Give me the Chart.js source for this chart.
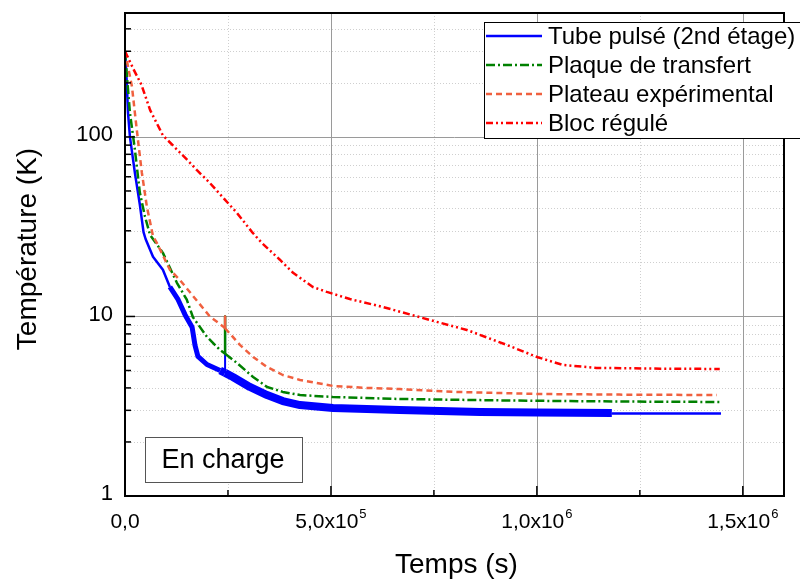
<!DOCTYPE html>
<html>
<head>
<meta charset="utf-8">
<script src="https://cdn.jsdelivr.net/npm/chart.js@4.4.1/dist/chart.umd.min.js"></script>
<style>
  body { margin: 0; background: #fff; }
  #wrap { width: 800px; height: 583px; }
</style>
</head>
<body>
<div id="wrap"><canvas id="chart"></canvas></div>
<script>
// Temps (s) / Température (K)
var tubeT = [0, 4e3, 7.3e3, 12e3, 24e3, 36e3, 45e3, 50e3, 68e3, 92e3, 109e3, 129e3, 146e3, 163e3, 170e3, 177e3, 199e3, 231e3, 243e3, 243e3, 243e3, 262e3, 303e3, 345e3, 383e3, 425e3, 505e3, 587e3, 667e3, 862e3, 1.0e6, 1.182e6, 1.184e6, 1.447e6];
var tubeV = [300, 208, 136, 100, 63, 42, 29.5, 27, 21.5, 18.2, 14.6, 12.4, 10.2, 8.7, 6.9, 6.0, 5.4, 5.0, 4.85, 10, 4.85, 4.6, 4.05, 3.65, 3.38, 3.21, 3.09, 3.05, 3.01, 2.94, 2.92, 2.9, 2.88, 2.88];

var plaqueT = [0, 6e3, 12e3, 24e3, 36e3, 48.5e3, 60.7e3, 92e3, 126e3, 150e3, 165e3, 199e3, 231e3, 243e3, 243e3, 243e3, 272e3, 311e3, 345e3, 383e3, 425e3, 505e3, 667e3, 862e3, 1.0e6, 1.2e6, 1.444e6];
var plaqueV = [300, 200, 136, 85, 49, 36, 28.5, 22.6, 15.4, 12.4, 9.9, 7.7, 6.5, 6.2, 10, 6.2, 5.5, 4.6, 4.05, 3.8, 3.65, 3.56, 3.47, 3.42, 3.39, 3.36, 3.34];

var plateauT = [0, 17e3, 24e3, 31.5e3, 41e3, 53e3, 68e3, 78e3, 109e3, 133e3, 175e3, 206e3, 238e3, 243e3, 243e3, 243e3, 279e3, 311e3, 345e3, 383e3, 425e3, 505e3, 587e3, 667e3, 800e3, 1.0e6, 1.2e6, 1.437e6];
var plateauV = [300, 190, 136, 96, 63, 41, 28, 25.5, 18.2, 16, 12.2, 10, 8.8, 8.6, 10, 8.6, 6.94, 5.95, 5.23, 4.72, 4.43, 4.1, 4.0, 3.94, 3.8, 3.7, 3.67, 3.65];

var blocT = [0, 20e3, 40e3, 61e3, 92e3, 133e3, 150e3, 174e3, 206e3, 243e3, 272e3, 308e3, 332e3, 376e3, 408e3, 456e3, 490e3, 546e3, 626e3, 740e3, 830e3, 927e3, 1.0e6, 1.063e6, 1.145e6, 1.3e6, 1.444e6];
var blocV = [300, 240, 195, 141, 102, 82, 75, 65.5, 55.4, 44.6, 37.7, 29.6, 25.7, 20.7, 17.5, 14.6, 13.7, 12.5, 11.3, 9.56, 8.41, 6.94, 5.95, 5.37, 5.17, 5.12, 5.1];

var seriesNames = ['Tube pulsé (2nd étage)', 'Plaque de transfert', 'Plateau expérimental', 'Bloc régulé'];

var xMajor = [0, 5e5, 1e6, 1.5e6];
var xMinor = [2.5e5, 7.5e5, 1.25e6];
var xTickBase = ['0,0', '5,0x10', '1,0x10', '1,5x10'];
var xTickExp = ['', '5', '6', '6'];
var yMajor = [1, 10, 100];
var yMinor = [2, 3, 4, 5, 6, 7, 8, 9, 20, 30, 40, 50, 60, 70, 80, 90, 200, 300, 400];
var yTickLabels = ['1', '10', '100'];

function pts(t, v) {
  return t.map(function (x, i) { return { x: x, y: v[i] }; });
}

var FONT = '"Liberation Sans", Arial, sans-serif';

var styles = [
  { color: '#0000ff', dash: [], width: 2.5 },
  { color: '#008000', dash: [9, 3, 2, 3], width: 2.5 },
  { color: '#f0603f', dash: [6, 4], width: 2.5 },
  { color: '#ff0000', dash: [7, 3, 2, 3, 2, 3], width: 2.5 }
];

var framePlugin = {
  id: 'frame',
  beforeDatasetsDraw: function (chart) {
    var c = chart.ctx, a = chart.chartArea;
    var xs = chart.scales.x, ys = chart.scales.y;
    c.save();
    // minor grid
    c.strokeStyle = '#cfcfcf';
    c.lineWidth = 1;
    c.setLineDash([1, 2]);
    xMinor.forEach(function (v) {
      var p = Math.round(xs.getPixelForValue(v)) + 0.5;
      c.beginPath(); c.moveTo(p, a.top); c.lineTo(p, a.bottom); c.stroke();
    });
    yMinor.forEach(function (v) {
      var p = Math.round(ys.getPixelForValue(v)) + 0.5;
      c.beginPath(); c.moveTo(a.left, p); c.lineTo(a.right, p); c.stroke();
    });
    // major grid
    c.setLineDash([]);
    c.strokeStyle = '#9a9a9a';
    xMajor.slice(1).forEach(function (v) {
      var p = Math.round(xs.getPixelForValue(v)) + 0.5;
      c.beginPath(); c.moveTo(p, a.top); c.lineTo(p, a.bottom); c.stroke();
    });
    yMajor.slice(1).forEach(function (v) {
      var p = Math.round(ys.getPixelForValue(v)) + 0.5;
      c.beginPath(); c.moveTo(a.left, p); c.lineTo(a.right, p); c.stroke();
    });
    c.restore();
  },
  afterDraw: function (chart) {
    var c = chart.ctx, a = chart.chartArea;
    var xs = chart.scales.x, ys = chart.scales.y;
    c.save();
    // frame
    c.strokeStyle = '#000';
    c.lineWidth = 2;
    c.strokeRect(a.left, a.top, a.right - a.left, a.bottom - a.top);
    // inward ticks
    c.lineWidth = 1.5;
    yMajor.forEach(function (v) {
      var p = ys.getPixelForValue(v);
      c.beginPath(); c.moveTo(a.left, p); c.lineTo(a.left + 10, p); c.stroke();
    });
    yMinor.forEach(function (v) {
      var p = ys.getPixelForValue(v);
      c.beginPath(); c.moveTo(a.left, p); c.lineTo(a.left + 6, p); c.stroke();
    });
    xMajor.forEach(function (v) {
      var p = xs.getPixelForValue(v);
      c.beginPath(); c.moveTo(p, a.bottom); c.lineTo(p, a.bottom - 10); c.stroke();
    });
    xMinor.forEach(function (v) {
      var p = xs.getPixelForValue(v);
      c.beginPath(); c.moveTo(p, a.bottom); c.lineTo(p, a.bottom - 6); c.stroke();
    });

    // tick labels
    c.fillStyle = '#000';
    c.font = '22px ' + FONT;
    c.textAlign = 'right';
    c.textBaseline = 'middle';
    yMajor.forEach(function (v, i) {
      c.fillText(yTickLabels[i], a.left - 12, ys.getPixelForValue(v) - 2);
    });
    c.textBaseline = 'alphabetic';
    xMajor.forEach(function (v, i) {
      var p = xs.getPixelForValue(v);
      c.font = '21px ' + FONT;
      var w1 = c.measureText(xTickBase[i]).width;
      c.font = '13px ' + FONT;
      var w2 = xTickExp[i] ? c.measureText(xTickExp[i]).width + 1 : 0;
      var x0 = p - (w1 + w2) / 2;
      c.textAlign = 'left';
      c.font = '21px ' + FONT;
      c.fillText(xTickBase[i], x0, 528);
      if (xTickExp[i]) {
        c.font = '13px ' + FONT;
        c.fillText(xTickExp[i], x0 + w1 + 1, 518);
      }
    });

    // axis titles
    c.font = '28px ' + FONT;
    c.textAlign = 'center';
    c.textBaseline = 'middle';
    c.fillText('Temps (s)', (a.left + a.right) / 2 + 2, 565);
    c.save();
    c.translate(28, 249);
    c.rotate(-Math.PI / 2);
    c.fillText('Température (K)', 0, 0);
    c.restore();

    // "En charge" box
    c.fillStyle = '#fff';
    c.fillRect(145, 437, 157, 45);
    c.strokeStyle = '#555';
    c.lineWidth = 1;
    c.strokeRect(145.5, 437.5, 157, 45);
    c.fillStyle = '#000';
    c.font = '27px ' + FONT;
    c.fillText('En charge', 223, 461);

    // legend
    c.fillStyle = '#fff';
    c.fillRect(484, 22, 320, 117);
    c.strokeStyle = '#000';
    c.lineWidth = 1;
    c.strokeRect(484.5, 22.5, 330, 116);
    var rows = [36, 65, 94, 123];
    rows.forEach(function (y, i) {
      var s = styles[i];
      c.strokeStyle = s.color;
      c.lineWidth = 2.5;
      c.setLineDash(s.dash);
      c.beginPath(); c.moveTo(486, y); c.lineTo(542, y); c.stroke();
      c.setLineDash([]);
      c.fillStyle = '#000';
      c.font = '24px ' + FONT;
      c.textAlign = 'left';
      c.textBaseline = 'middle';
      c.fillText(seriesNames[i], 548, y + 1);
    });
    c.restore();
  }
};

function tubeWidth(ctx) {
  var x0 = ctx.p0.parsed.x, x1 = ctx.p1.parsed.x;
  if (x0 === x1) return 2;
  if (x0 >= 100e3 && x1 <= 1.182e6) return x0 < 200e3 ? 5 : 8;
  return 2.5;
}

function spikeDash(dash) {
  return function (ctx) {
    return ctx.p0.parsed.x === ctx.p1.parsed.x ? [] : dash;
  };
}

var datasets = [
  { label: seriesNames[0], data: pts(tubeT, tubeV), order: 3,
    borderColor: styles[0].color, borderWidth: 2.5,
    segment: { borderWidth: tubeWidth } },
  { label: seriesNames[1], data: pts(plaqueT, plaqueV), order: 2,
    borderColor: styles[1].color, borderWidth: 2.5, borderDash: styles[1].dash,
    segment: { borderDash: spikeDash(styles[1].dash) } },
  { label: seriesNames[2], data: pts(plateauT, plateauV), order: 1,
    borderColor: styles[2].color, borderWidth: 2.5, borderDash: styles[2].dash,
    segment: { borderDash: spikeDash(styles[2].dash) } },
  { label: seriesNames[3], data: pts(blocT, blocV), order: 0,
    borderColor: styles[3].color, borderWidth: 2.5, borderDash: styles[3].dash }
];

var chart = new Chart(document.getElementById('chart').getContext('2d'), {
  type: 'line',
  data: { datasets: datasets },
  options: {
    responsive: true,
    maintainAspectRatio: false,
    animation: false,
    layout: { padding: { left: 125, right: 16, top: 13, bottom: 87 } },
    elements: {
      point: { radius: 0 },
      line: { tension: 0, fill: false, borderJoinStyle: 'round' }
    },
    scales: {
      x: { type: 'linear', min: 0, max: 1.6e6, display: false },
      y: { type: 'logarithmic', min: 1, max: 490, display: false }
    },
    plugins: {
      legend: { display: false },
      tooltip: { enabled: false }
    }
  },
  plugins: [framePlugin]
});
</script>
</body>
</html>
